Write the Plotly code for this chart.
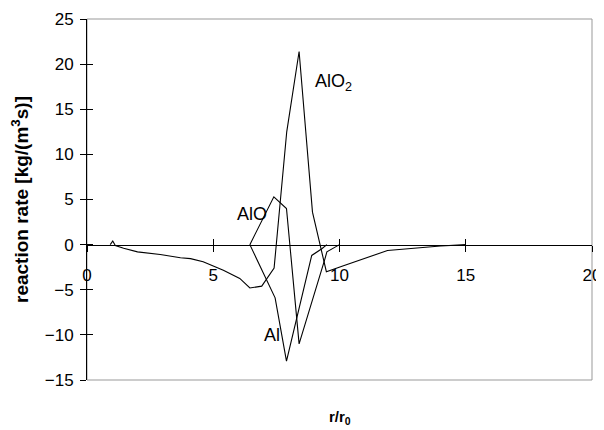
"""Reaction rate profiles of Al, AlO and AlO2 against r/r0."""

import plotly.graph_objects as go

# radial position r/r0 and reaction rate [kg/(m3 s)]
r_alo2 = [0.92, 1.02, 1.12, 1.45, 2.0, 2.9, 3.7, 4.1, 4.6, 5.4, 6.05, 6.45,
          6.92, 7.41, 7.91, 8.4, 8.93, 9.48, 10.1, 10.75, 11.9, 14.0, 15.0]
rate_alo2 = [0.0, 0.4, -0.1, -0.4, -0.8, -1.1, -1.45, -1.55, -1.9, -2.85, -3.75,
             -4.8, -4.6, -2.6, 12.5, 21.4, 3.6, -3.0, -2.4, -1.75, -0.65, -0.15, 0.0]

r_alo = [6.45, 7.4, 7.9, 8.4, 9.42, 9.5, 10.0]
rate_alo = [0.0, 5.3, 4.0, -11.0, -1.6, -0.8, 0.0]

r_al = [6.45, 7.45, 7.9, 8.9, 9.3, 9.5]
rate_al = [0.0, -5.9, -12.9, -1.2, -0.45, 0.0]

labels = ["AlO<sub>2</sub>", "AlO", "Al"]
label_x = [8.95, 5.86, 6.93]
label_y = [18.0, 3.4, -10.0]

FONT = "Liberation Sans, Arial, sans-serif"

fig = go.Figure()
for xs, ys in [(r_alo2, rate_alo2), (r_alo, rate_alo), (r_al, rate_al)]:
    fig.add_trace(go.Scatter(x=xs, y=ys, mode="lines",
                             line=dict(color="black", width=1.1),
                             showlegend=False, hoverinfo="skip"))

# empty traces so the overlaid axes (used for the inner half of the ticks) get drawn
fig.add_trace(go.Scatter(x=[], y=[], xaxis="x2", yaxis="y", showlegend=False))
fig.add_trace(go.Scatter(x=[], y=[], xaxis="x", yaxis="y2", showlegend=False))

for text, lx, ly in zip(labels, label_x, label_y):
    fig.add_annotation(x=lx, y=ly, text=text, showarrow=False, xanchor="left",
                       font=dict(size=18, color="black", family=FONT))

fig.add_annotation(x=0.5, y=0, xref="paper", yref="paper", yanchor="top",
                   yshift=-26, showarrow=False, text="<b>r/r<sub>0</sub></b>",
                   font=dict(size=15, color="black", family=FONT))

fig.add_shape(type="rect", xref="paper", yref="paper", x0=0, y0=0, x1=1, y1=1,
              line=dict(color="#999999", width=1), layer="below")

zero_pos = 15 / 40

# page body adds an 8px margin, so the figure is a bit smaller than the window
fig.update_layout(
    width=596, height=422,
    margin=dict(l=79, r=12, t=11, b=50, autoexpand=False),
    paper_bgcolor="white", plot_bgcolor="white",
    font=dict(family=FONT, color="black", size=17),
    xaxis=dict(range=[0, 20], dtick=5, anchor="free", position=zero_pos,
               showline=True, linecolor="black", linewidth=1,
               ticks="outside", ticklen=6, tickcolor="black",
               ticklabelstandoff=9, showgrid=False, zeroline=False,
               automargin=False, tickfont=dict(size=17)),
    xaxis2=dict(range=[0, 20], dtick=5, overlaying="x", anchor="free",
                position=zero_pos, showline=False, ticks="inside", ticklen=6,
                tickcolor="black", showticklabels=False, showgrid=False,
                zeroline=False, automargin=False),
    yaxis=dict(range=[-15, 25], dtick=5, showline=True, linecolor="black",
               linewidth=1, ticks="outside", ticklen=6, tickcolor="black",
               showgrid=False, zeroline=False, ticklabelstandoff=3,
               automargin=False, tickfont=dict(size=17),
               title=dict(text="<b>reaction rate [kg/(m<sup>3</sup>s)]</b>",
                          font=dict(size=19), standoff=18)),
    yaxis2=dict(range=[-15, 25], dtick=5, overlaying="y", anchor="x",
                side="left", showline=False, ticks="inside", ticklen=6,
                tickcolor="black", showticklabels=False, showgrid=False,
                zeroline=False, automargin=False),
)

fig.write_html("out.html")
